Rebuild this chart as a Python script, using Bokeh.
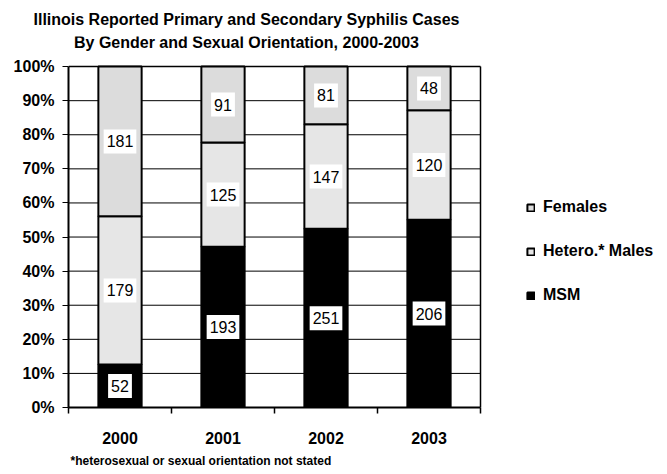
import numpy as np
from bokeh.plotting import figure
from bokeh.models import (ColumnDataSource, Range1d, FixedTicker, NumeralTickFormatter,
                          Legend, LegendItem, Title, Label)
from bokeh.core.properties import value
from bokeh.embed import file_html
from bokeh.resources import INLINE

# ---- data ----
years = ["2000", "2001", "2002", "2003"]
msm = [52, 193, 251, 206]
hetero_males = [179, 125, 147, 120]
females = [181, 91, 81, 48]
series_names = ["MSM", "Hetero.* Males", "Females"]
series_colors = ["#000000", "#e6e6e6", "#dcdcdc"]
y_ticks = [0, 0.1, 0.2, 0.3, 0.4, 0.5, 0.6, 0.7, 0.8, 0.9, 1.0]

FONT = "Liberation Sans"

counts = np.array([msm, hetero_males, females], dtype=float)
totals = counts.sum(axis=0)
frac = counts / totals
tops = np.cumsum(frac, axis=0)
bottoms = tops - frac
n = len(years)
xc = np.arange(n) + 0.5

# Frame spans from the y axis to the right edge (legend inside it); the first title
# line lives in the "above" panel, everything else is bounded to the chart area.
W, H = 667, 474
LEFT, BOTTOM, TOP_PANEL = 68, 67, 37
plot_w, plot_h = 412, 340
p = figure(width=W, height=H, output_backend="svg", toolbar_location=None,
           x_range=Range1d(0, n * (W - LEFT) / plot_w),
           y_range=Range1d(0, (H - BOTTOM - TOP_PANEL) / plot_h),
           min_border_left=LEFT, min_border_right=0, min_border_top=0, min_border_bottom=BOTTOM)
p.background_fill_color = "white"
p.border_fill_color = "white"
p.outline_line_color = None
p.xgrid.visible = False
p.ygrid.visible = False

# grid lines (top one doubles as the top border) and right border
grid_src = ColumnDataSource(dict(x0=[0] * len(y_ticks), x1=[n] * len(y_ticks), y=y_ticks,
                                 w=[1.5 if t == y_ticks[-1] else 1 for t in y_ticks]))
p.segment(x0="x0", x1="x1", y0="y", y1="y", source=grid_src, line_color="black",
          line_width="w", level="underlay")
p.segment(x0=[n], x1=[n], y0=[y_ticks[0]], y1=[y_ticks[-1]], line_color="black",
          line_width=1.5, level="underlay")

renderers = []
for i, name in enumerate(series_names):
    src = ColumnDataSource(dict(x=xc, bottom=bottoms[i], top=tops[i],
                                mid=(bottoms[i] + tops[i]) / 2,
                                lab=[str(int(v)) for v in counts[i]]))
    r = p.vbar(x="x", width=0.42, bottom="bottom", top="top", source=src,
               fill_color=series_colors[i], line_color="black", line_width=2)
    renderers.append(r)
    p.text(x="x", y="mid", text="lab", source=src, text_align="center",
           text_baseline="middle", text_font=value(FONT), text_font_size="16px",
           text_color="black", background_fill_color="white",
           padding=dict(left=3, right=3, top=6, bottom=6))

# axes
for ax in (p.xaxis, p.yaxis):
    ax.axis_line_color = "black"
    ax.major_tick_line_color = "black"
    ax.minor_tick_line_color = "black"
    ax.major_label_text_color = "black"
    ax.major_label_text_font = FONT
    ax.major_label_text_font_style = "bold"
    ax.major_label_text_font_size = "16px"
    ax.axis_line_width = 2

p.yaxis.bounds = (y_ticks[0], y_ticks[-1])
p.yaxis.ticker = FixedTicker(ticks=y_ticks)
p.yaxis.formatter = NumeralTickFormatter(format="0%")
p.yaxis.major_tick_out = 6
p.yaxis.major_tick_in = 0
p.yaxis.minor_tick_line_color = None
p.yaxis.major_label_standoff = 8

p.xaxis.bounds = (0, n)
p.xaxis.ticker = FixedTicker(ticks=list(xc), minor_ticks=list(range(n + 1)))
p.xaxis.major_label_overrides = {float(x): y for x, y in zip(xc, years)}
p.xaxis.major_tick_out = 0
p.xaxis.major_tick_in = 0
p.xaxis.minor_tick_out = 6
p.xaxis.minor_tick_in = 0
p.xaxis.minor_tick_line_width = 1.5
p.xaxis.major_label_standoff = 18

# legend (inside the extended frame, right of the bars)
legend_order = ["Females", "Hetero.* Males", "MSM"]
items = [LegendItem(label=nm, renderers=[renderers[series_names.index(nm)]]) for nm in legend_order]
lg = Legend(items=items, location=(458, 103),
            glyph_width=9, glyph_height=9, label_standoff=8, label_height=16,
            padding=0, margin=0, spacing=26, border_line_color=None,
            background_fill_alpha=0, label_text_font=FONT, label_text_color="black",
            label_text_font_style="bold", label_text_font_size="16px")
p.add_layout(lg, "center")

# title: first line in the above panel, second line inside the frame
p.add_layout(Title(text="Illinois Reported Primary and Secondary Syphilis Cases", align="left",
                   offset=-35, standoff=17, text_font=FONT, text_font_style="bold",
                   text_color="black", text_font_size="16px"), "above")
p.add_layout(Label(x=178, y=365, x_units="screen", y_units="screen",
                   text="By Gender and Sexual Orientation, 2000-2003",
                   text_align="center", text_baseline="alphabetic", text_color="black",
                   text_font=FONT, text_font_style="bold", text_font_size="16px"))

# footnote
p.add_layout(Title(text="*heterosexual or sexual orientation not stated", align="left", offset=2,
                   standoff=10, text_font=FONT, text_font_style="bold", text_color="black",
                   text_font_size="12px"), "below")

open("out.html", "w").write(file_html(p, INLINE))
